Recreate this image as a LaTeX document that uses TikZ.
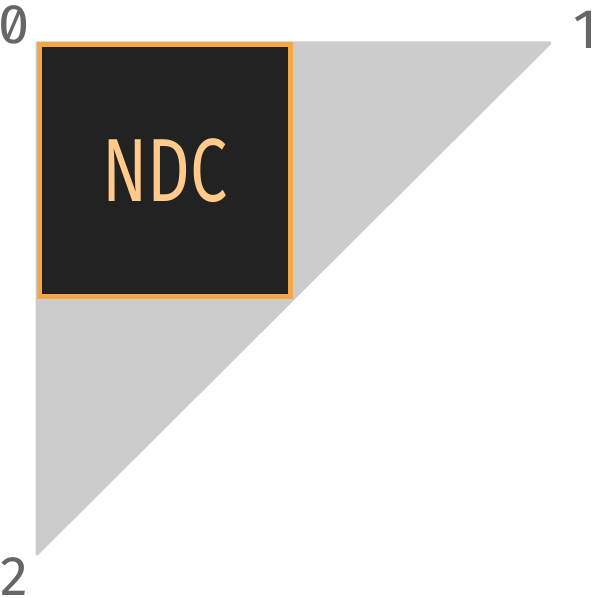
\documentclass[tikz,border=0pt]{standalone}
\usepackage{fontspec}
\setmainfont{Fira Sans}
\newfontfamily\ndcfont[FakeStretch=0.74]{Fira Sans}
\newfontfamily\digitfont[Numbers=SlashedZero]{Fira Sans}
\usepackage{tikz}
\usepackage{xcolor}
\usetikzlibrary{positioning}
\definecolor{trigray}{HTML}{CCCCCC}
\definecolor{boxdark}{HTML}{222222}
\definecolor{boxorange}{HTML}{F5A646}
\definecolor{ndctext}{HTML}{FFCA8A}
\definecolor{labgray}{HTML}{666666}
\tikzset{
  ndcbox/.style={draw=boxorange,fill=boxdark,line width=5bp,minimum size=251bp,
    inner sep=0pt,text=ndctext,font=\ndcfont\fontsize{90}{90}\selectfont},
  cornerlab/.style={text=labgray,inner sep=0pt,text height=38bp,text depth=0pt,
    font=\digitfont\fontsize{56}{56}\selectfont}
}

\begin{document}
\begin{tikzpicture}[x=1bp,y=-1bp]
	\useasboundingbox (0,0) rectangle (596,598);
	% triangle corners
	\coordinate (c0) at (37,43);
	\coordinate (c1) at (550,43);
	\coordinate (c2) at (37,554);
	\filldraw[trigray,line width=3bp,line join=round] (c0) -- (c1) -- (c2) -- cycle;
	\node[ndcbox] (ndc) at (165,170.5) {NDC};
	\node[cornerlab] (lab0) at (14,25) {0};
	\node[cornerlab] (lab1) at (586,30) {1};
	\node[cornerlab] (lab2) at (14,576) {2};
\end{tikzpicture}
\end{document}
